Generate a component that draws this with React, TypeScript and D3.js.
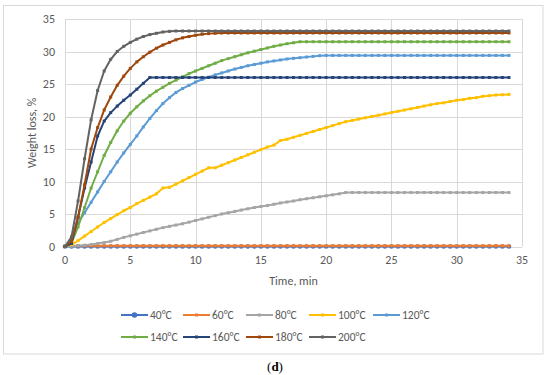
import React from "react";
import * as d3 from "d3";

const times = [0,0.5,1,1.5,2,2.5,3,3.5,4,4.5,5,5.5,6,6.5,7,7.5,8,8.5,9,9.5,10,10.5,11,11.5,12,12.5,13,13.5,14,14.5,15,15.5,16,16.5,17,17.5,18,18.5,19,19.5,20,20.5,21,21.5,22,22.5,23,23.5,24,24.5,25,25.5,26,26.5,27,27.5,28,28.5,29,29.5,30,30.5,31,31.5,32,32.5,33,33.5,34];

const seriesNames = ["40°C","60°C","80°C","100°C","120°C","140°C","160°C","180°C","200°C"];
const seriesColors = ["#4472C4","#ED7D31","#A5A5A5","#FFC000","#5B9BD5","#70AD47","#264478","#9E480E","#636363"];

const s40 = [0,0,0,0,0,0,0,0,0,0,0,0,0,0,0,0,0,0,0,0,0,0,0,0,0,0,0,0,0,0,0,0,0,0,0,0,0,0,0,0,0,0,0,0,0,0,0,0,0,0,0,0,0,0,0,0,0,0,0,0,0,0,0,0,0,0,0,0,0];
const s60 = [0.1,0.1,0.1,0.1,0.1,0.1,0.1,0.1,0.1,0.1,0.1,0.1,0.1,0.1,0.1,0.1,0.1,0.1,0.1,0.1,0.1,0.1,0.1,0.1,0.1,0.1,0.1,0.1,0.1,0.1,0.1,0.1,0.1,0.1,0.1,0.1,0.1,0.1,0.1,0.1,0.1,0.1,0.1,0.1,0.1,0.1,0.1,0.1,0.1,0.1,0.1,0.1,0.1,0.1,0.1,0.1,0.1,0.1,0.1,0.1,0.1,0.1,0.1,0.1,0.1,0.1,0.1,0.1,0.1];
const s80 = [0,0.05,0.1,0.2,0.3,0.45,0.6,0.8,1.1,1.4,1.65,1.9,2.15,2.4,2.65,2.9,3.1,3.3,3.5,3.75,4.0,4.25,4.5,4.75,5.0,5.2,5.4,5.6,5.8,6.0,6.15,6.3,6.5,6.7,6.85,7.0,7.2,7.35,7.5,7.65,7.8,7.95,8.1,8.3,8.3,8.3,8.3,8.3,8.3,8.3,8.3,8.3,8.3,8.3,8.3,8.3,8.3,8.3,8.3,8.3,8.3,8.3,8.3,8.3,8.3,8.3,8.3,8.3,8.3];
const s100 = [0,0.3,0.9,1.6,2.3,3.0,3.7,4.3,4.9,5.5,6.0,6.6,7.1,7.6,8.1,9.0,9.1,9.6,10.1,10.6,11.1,11.6,12.1,12.1,12.5,12.9,13.3,13.7,14.1,14.5,14.9,15.3,15.6,16.3,16.5,16.8,17.1,17.4,17.7,18.0,18.3,18.6,18.9,19.2,19.4,19.6,19.8,20.0,20.2,20.4,20.6,20.8,21.0,21.2,21.4,21.6,21.8,22.0,22.1,22.3,22.5,22.6,22.8,22.9,23.1,23.2,23.3,23.35,23.4];
const s120 = [0,1.2,3.6,5.2,6.8,8.4,10.0,11.5,13.0,14.4,15.7,17.0,18.4,19.7,20.9,22.0,22.9,23.7,24.3,24.8,25.3,25.7,26.05,26.4,26.7,27.0,27.3,27.55,27.8,28.0,28.2,28.4,28.55,28.7,28.85,28.95,29.05,29.15,29.25,29.35,29.4,29.4,29.4,29.4,29.4,29.4,29.4,29.4,29.4,29.4,29.4,29.4,29.4,29.4,29.4,29.4,29.4,29.4,29.4,29.4,29.4,29.4,29.4,29.4,29.4,29.4,29.4,29.4,29.4];
const s140 = [0,0.5,3,6,9,11.5,14,16,17.8,19.3,20.5,21.5,22.4,23.2,23.9,24.5,25.1,25.6,26.1,26.6,27.0,27.4,27.8,28.2,28.6,28.9,29.2,29.5,29.8,30.05,30.3,30.55,30.8,31.0,31.2,31.35,31.5,31.5,31.5,31.5,31.5,31.5,31.5,31.5,31.5,31.5,31.5,31.5,31.5,31.5,31.5,31.5,31.5,31.5,31.5,31.5,31.5,31.5,31.5,31.5,31.5,31.5,31.5,31.5,31.5,31.5,31.5,31.5,31.5];
const s160 = [0,0.5,4.5,9,13,17,19.3,20.6,21.6,22.5,23.3,24.2,25.1,26,26,26,26,26,26,26,26,26,26,26,26,26,26,26,26,26,26,26,26,26,26,26,26,26,26,26,26,26,26,26,26,26,26,26,26,26,26,26,26,26,26,26,26,26,26,26,26,26,26,26,26,26,26,26,26];
const s180 = [0,0.8,4.5,9.5,15,18.3,21,23,24.8,26.2,27.4,28.4,29.2,29.9,30.5,31.0,31.4,31.8,32.1,32.3,32.5,32.65,32.75,32.8,32.85,32.85,32.85,32.85,32.85,32.85,32.85,32.85,32.85,32.85,32.85,32.85,32.85,32.85,32.85,32.85,32.85,32.85,32.85,32.85,32.85,32.85,32.85,32.85,32.85,32.85,32.85,32.85,32.85,32.85,32.85,32.85,32.85,32.85,32.85,32.85,32.85,32.85,32.85,32.85,32.85,32.85,32.85,32.85,32.85];
const s200 = [0,1.5,7,13.5,19.5,24,27,28.8,30.0,30.8,31.4,31.9,32.3,32.6,32.8,33.0,33.1,33.15,33.15,33.15,33.15,33.15,33.15,33.15,33.15,33.15,33.15,33.15,33.15,33.15,33.15,33.15,33.15,33.15,33.15,33.15,33.15,33.15,33.15,33.15,33.15,33.15,33.15,33.15,33.15,33.15,33.15,33.15,33.15,33.15,33.15,33.15,33.15,33.15,33.15,33.15,33.15,33.15,33.15,33.15,33.15,33.15,33.15,33.15,33.15,33.15,33.15,33.15,33.15];

const seriesValues = [s40, s60, s80, s100, s120, s140, s160, s180, s200];
const xTicks = [0,5,10,15,20,25,30,35];
const yTicks = [0,5,10,15,20,25,30,35];

const FONT = "Carlito, Calibri, Lato, sans-serif";
const TXT = "#595959";
const GRID = "#d9d9d9";

export default function App() {
  const W = 550, H = 375;
  const x = d3.scaleLinear().domain([0, 35]).range([65, 522]);
  const y = d3.scaleLinear().domain([0, 35]).range([246.5, 19]);
  const line = d3.line<number>().x((_, i) => x(times[i])).y(d => y(d));

  const legendCols = [121, 183, 246, 309, 373];
  const legendRows = [315, 337];

  return (
    <svg width={W} height={H} style={{ position: "absolute", left: 0, top: 0, background: "#fff" }}>
      <rect x={0} y={0} width={W} height={H} fill="#fff" />
      <rect x={3.5} y={5.5} width={539.5} height={348.5} fill="#fff" stroke={GRID} strokeWidth={1} />
      {yTicks.map(t => (
        <line key={"gy" + t} x1={x(0)} x2={x(35)} y1={Math.round(y(t)) + 0.5} y2={Math.round(y(t)) + 0.5} stroke={GRID} strokeWidth={1} />
      ))}
      {xTicks.map(t => (
        <line key={"gx" + t} x1={Math.round(x(t)) + 0.5} x2={Math.round(x(t)) + 0.5} y1={y(35)} y2={y(0)} stroke={GRID} strokeWidth={1} />
      ))}
      {yTicks.map(t => (
        <text key={"ty" + t} x={55} y={y(t)} textAnchor="end" dominantBaseline="central" fontFamily={FONT} fontSize={12} fill={TXT}>{t}</text>
      ))}
      {xTicks.map(t => (
        <text key={"tx" + t} x={x(t)} y={260} textAnchor="middle" dominantBaseline="central" fontFamily={FONT} fontSize={12} fill={TXT}>{t}</text>
      ))}
      <text x={(x(0) + x(35)) / 2} y={280.5} textAnchor="middle" dominantBaseline="central" fontFamily={FONT} fontSize={12} fill={TXT}>Time, min</text>
      <text transform={`translate(32,${(y(0) + y(35)) / 2}) rotate(-90)`} textAnchor="middle" dominantBaseline="central" fontFamily={FONT} fontSize={12} fill={TXT}>Weight loss, %</text>
      {seriesValues.map((vals, si) => (
        <g key={"s" + si}>
          <path d={line(vals) || ""} fill="none" stroke={seriesColors[si]} strokeWidth={2} strokeLinejoin="round" />
          {vals.map((v, i) => si === 0 ? (
            <circle key={i} cx={x(times[i])} cy={y(v)} r={2.3} fill={seriesColors[si]} />
          ) : (
            <rect key={i} x={x(times[i]) - 1.5} y={y(v) - 1.5} width={3} height={3} fill={seriesColors[si]} />
          ))}
        </g>
      ))}
      {seriesNames.map((name, i) => {
        const cx = legendCols[i % 5];
        const cy = legendRows[Math.floor(i / 5)];
        return (
          <g key={"lg" + i}>
            <line x1={cx} x2={cx + 27} y1={cy} y2={cy} stroke={seriesColors[i]} strokeWidth={2} />
            {i === 0 ? (
              <circle cx={cx + 13.5} cy={cy} r={2.8} fill={seriesColors[i]} />
            ) : (
              <rect x={cx + 12} y={cy - 1.5} width={3} height={3} fill={seriesColors[i]} />
            )}
            <text x={cx + 29} y={cy} dominantBaseline="central" fontFamily={FONT} fontSize={11.5} fill={TXT}>{name}</text>
          </g>
        );
      })}
      <text x={275} y={366} textAnchor="middle" dominantBaseline="central" fontFamily="'Liberation Serif', 'Times New Roman', serif" fontSize={13} fill="#000">
        (<tspan fontWeight="bold">d</tspan>)
      </text>
    </svg>
  );
}
